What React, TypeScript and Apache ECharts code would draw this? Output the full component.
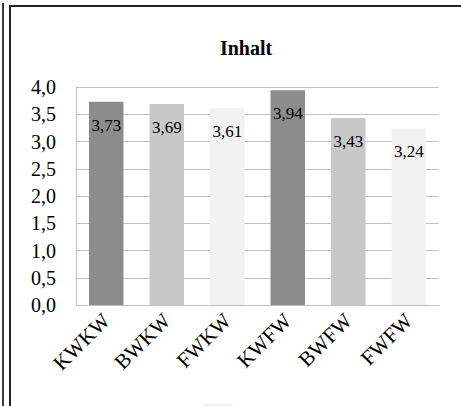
import React, { useEffect, useRef } from "react";
import * as echarts from "echarts";

const categories = ["KWKW", "BWKW", "FWKW", "KWFW", "BWFW", "FWFW"];
const values = [3.73, 3.69, 3.61, 3.94, 3.43, 3.24];
const barColors = ["#8c8c8c", "#c8c8c8", "#f2f2f2", "#8c8c8c", "#c8c8c8", "#f2f2f2"];
const titleText = "Inhalt";

const FONT = "Liberation Serif, Times New Roman, serif";
const fmt = (v: number, d: number) => v.toFixed(d).replace(".", ",");

export default function App() {
  const ref = useRef<HTMLDivElement>(null);
  useEffect(() => {
    if (!ref.current) return;
    const chart = echarts.init(ref.current, undefined, { renderer: "svg" });
    chart.setOption({
      animation: false,
      backgroundColor: "#ffffff",
      textStyle: { fontFamily: FONT },
      title: {
        text: titleText,
        left: 241,
        textAlign: "center",
        top: 33,
        textStyle: { fontFamily: FONT, fontWeight: "bold", fontSize: 20, color: "#000" },
      },
      grid: { left: 76, right: 22, top: 87, bottom: 101, containLabel: false },
      xAxis: {
        type: "category",
        data: categories,
        axisLine: { show: true, lineStyle: { color: "#bfbfbf", width: 1 } },
        axisTick: { show: false },
        axisLabel: {
          rotate: 45,
          margin: 12,
          fontFamily: FONT,
          fontWeight: "normal",
          fontSize: 21,
          color: "#000",
        },
      },
      yAxis: {
        type: "value",
        min: 0,
        max: 4,
        interval: 0.5,
        axisLine: { show: true, lineStyle: { color: "#bfbfbf", width: 1 } },
        axisTick: { show: false },
        splitLine: { show: true, lineStyle: { color: "#bfbfbf", width: 1 } },
        axisLabel: {
          margin: 20,
          fontFamily: FONT,
          fontWeight: "normal",
          fontSize: 20,
          color: "#000",
          formatter: (v: number) => fmt(v, 1),
        },
      },
      series: [
        {
          type: "bar",
          data: values.map((v, i) => ({ value: v, itemStyle: { color: barColors[i] } })),
          barWidth: "57%",
          label: {
            show: true,
            position: "insideTop",
            distance: 15,
            fontFamily: FONT,
            fontWeight: "normal",
            fontSize: 17,
            color: "#000",
            formatter: (p: any) => fmt(p.value, 2),
          },
        },
      ],
      graphic: [
        { type: "rect", shape: { x: 2, y: 3, width: 2, height: 403 }, style: { fill: "#3a3a3a" } },
        { type: "rect", shape: { x: 9, y: 5, width: 2, height: 401 }, style: { fill: "#222" } },
        { type: "rect", shape: { x: 9, y: 5, width: 452, height: 2 }, style: { fill: "#222" } },
        { type: "rect", shape: { x: 203, y: 404, width: 30, height: 2 }, style: { fill: "#f0f0f0" } },
      ],
    });
    return () => chart.dispose();
  }, []);
  return (
    <div
      ref={ref}
      style={{ position: "fixed", left: 0, top: 0, width: 461, height: 406 }}
    />
  );
}
